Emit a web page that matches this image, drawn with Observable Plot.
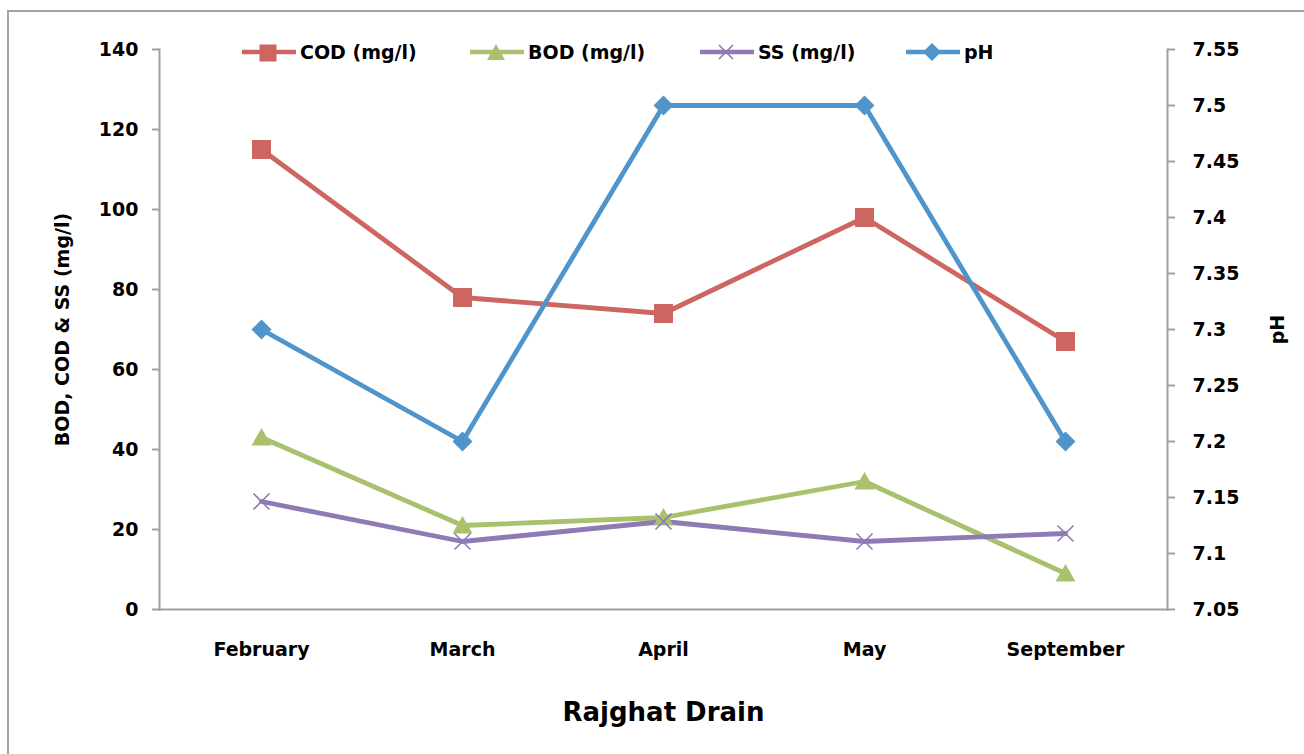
<!DOCTYPE html>
<html>
<head>
<meta charset="utf-8">
<script src="https://cdn.jsdelivr.net/npm/d3@7"></script>
<script src="https://cdn.jsdelivr.net/npm/@observablehq/plot@0.6"></script>
<style>
  html, body { margin: 0; padding: 0; background: #fff; }
  #wrap { position: relative; width: 1304px; height: 754px; overflow: hidden; background: #fff; font-family: "DejaVu Sans", sans-serif; font-weight: bold; }
  #frame { position: absolute; left: 7px; top: 10px; width: 1400px; height: 900px; border: 2px solid #a3a3a3; box-sizing: border-box; }
  #chart { position: absolute; left: 0; top: 0; }
  #chart svg { overflow: visible; }
  #chart g[aria-label="x-axis label"] text { font-size: 26px; }
  .leg { position: absolute; top: 40px; height: 24px; display: flex; align-items: center; font-size: 19px; color: #000; white-space: nowrap; }
  .leg svg { display: block; margin-right: 4px; }
</style>
</head>
<body>
<div id="wrap">
  <div id="frame"></div>
  <div id="chart"></div>
  <div id="legend"></div>
</div>
<script>
// ---- data ----
const months = ["February", "March", "April", "May", "September"];
const cod = [115, 78, 74, 98, 67];
const bod = [43, 21, 23, 32, 9];
const ss = [27, 17, 22, 17, 19];
const ph = [7.3, 7.2, 7.5, 7.5, 7.2];
const leftTicks = [0, 20, 40, 60, 80, 100, 120, 140];
const rightTicks = [7.05, 7.1, 7.15, 7.2, 7.25, 7.3, 7.35, 7.4, 7.45, 7.5, 7.55];
const seriesNames = ["COD (mg/l)", "BOD (mg/l)", "SS (mg/l)", "pH"];

// ---- styling ----
const colors = { cod: "#CD6660", bod: "#A9C06C", ss: "#8E7AB5", ph: "#4F95CB" };
const axisColor = "#a0a0a0";

const leftMin = 0, leftMax = 140, phMin = 7.05, phMax = 7.55;
const toLeft = v => (v - phMin) / (phMax - phMin) * (leftMax - leftMin) + leftMin;
const fromLeft = v => phMin + (v - leftMin) / (leftMax - leftMin) * (phMax - phMin);

const rows = months.map((m, i) => ({ month: m, cod: cod[i], bod: bod[i], ss: ss[i], ph: ph[i] }));

// custom symbols (size = pi r^2)
const rad = s => Math.sqrt(s / Math.PI);
const symSquare = { draw(c, s) { const r = rad(s); c.moveTo(-r, -r); c.lineTo(r, -r); c.lineTo(r, r); c.lineTo(-r, r); c.closePath(); } };
const symTriangle = { draw(c, s) { const r = rad(s); c.moveTo(0, -r * 0.95); c.lineTo(r, r * 0.8); c.lineTo(-r, r * 0.8); c.closePath(); } };
const symDiamond = { draw(c, s) { const r = rad(s); c.moveTo(0, -r); c.lineTo(r, 0); c.lineTo(0, r); c.lineTo(-r, 0); c.closePath(); } };
const symTimes = { draw(c, s) { const r = rad(s); c.moveTo(-r, -r); c.lineTo(r, r); c.moveTo(r, -r); c.lineTo(-r, r); } };

const lw = 4.8;

const plot = Plot.plot({
  width: 1304,
  height: 754,
  marginLeft: 159,
  marginRight: 137,
  marginTop: 49,
  marginBottom: 145,
  style: { fontFamily: "'DejaVu Sans', sans-serif", fontWeight: "bold", fontSize: "19px", color: "#000", background: "transparent" },
  x: { type: "point", domain: months, padding: 0.5 },
  y: { domain: [leftMin, leftMax] },
  marks: [
    Plot.frame({ anchor: "left", stroke: axisColor, strokeWidth: 2 }),
    Plot.frame({ anchor: "right", stroke: axisColor, strokeWidth: 2 }),
    Plot.frame({ anchor: "bottom", stroke: axisColor, strokeWidth: 2 }),
    Plot.axisY({ ticks: leftTicks, tickSize: 7, tickPadding: 14, stroke: axisColor, strokeWidth: 2, fill: "#000",
      label: "BOD, COD & SS (mg/l)", labelAnchor: "center", labelArrow: "none", labelOffset: 104 }),
    Plot.axisY({ anchor: "right", ticks: rightTicks.map(toLeft), tickFormat: d => String(Math.round(fromLeft(d) * 100) / 100),
      tickSize: 7, tickPadding: 18, stroke: axisColor, strokeWidth: 2, fill: "#000",
      label: "pH", labelAnchor: "center", labelArrow: "none", labelOffset: 116 }),
    Plot.axisX({ tickSize: 0, tickPadding: 33, fill: "#000", label: "Rajghat Drain", labelAnchor: "center", labelArrow: "none", labelOffset: 111 }),
    Plot.line(rows, { x: "month", y: "cod", stroke: colors.cod, strokeWidth: lw }),
    Plot.line(rows, { x: "month", y: "bod", stroke: colors.bod, strokeWidth: lw }),
    Plot.line(rows, { x: "month", y: "ss", stroke: colors.ss, strokeWidth: lw }),
    Plot.line(rows, { x: "month", y: d => toLeft(d.ph), stroke: colors.ph, strokeWidth: lw }),
    Plot.dot(rows, { x: "month", y: "cod", symbol: symSquare, r: 9.5, fill: colors.cod }),
    Plot.dot(rows, { x: "month", y: "bod", symbol: symTriangle, r: 10, fill: colors.bod }),
    Plot.dot(rows, { x: "month", y: "ss", symbol: symTimes, r: 8, fill: "none", stroke: colors.ss, strokeWidth: 1.6 }),
    Plot.dot(rows, { x: "month", y: d => toLeft(d.ph), symbol: symDiamond, r: 10, fill: colors.ph })
  ]
});
document.getElementById("chart").appendChild(plot);

// ---- legend (HTML) ----
const legendItems = [
  { name: seriesNames[0], color: colors.cod, sym: "square", left: 242 },
  { name: seriesNames[1], color: colors.bod, sym: "triangle", left: 470 },
  { name: seriesNames[2], color: colors.ss, sym: "times", left: 700 },
  { name: seriesNames[3], color: colors.ph, sym: "diamond", left: 906 }
];
const legend = document.getElementById("legend");
for (const it of legendItems) {
  const div = document.createElement("div");
  div.className = "leg";
  div.style.left = it.left + "px";
  let m = "";
  if (it.sym === "square") m = `<rect x="17.5" y="4.5" width="17" height="17" fill="${it.color}"/>`;
  if (it.sym === "triangle") m = `<path d="M26,4 L35,20 L17,20 Z" fill="${it.color}"/>`;
  if (it.sym === "times") m = `<path d="M19,5 L33,19 M33,5 L19,19" stroke="${it.color}" stroke-width="1.6" fill="none"/>`;
  if (it.sym === "diamond") m = `<path d="M26,3 L35,12 L26,21 L17,12 Z" fill="${it.color}"/>`;
  div.innerHTML = `<svg width="54" height="24"><line x1="0" x2="54" y1="12" y2="12" stroke="${it.color}" stroke-width="4.5"/>${m}</svg><span>${it.name}</span>`;
  legend.appendChild(div);
}
</script>
</body>
</html>
